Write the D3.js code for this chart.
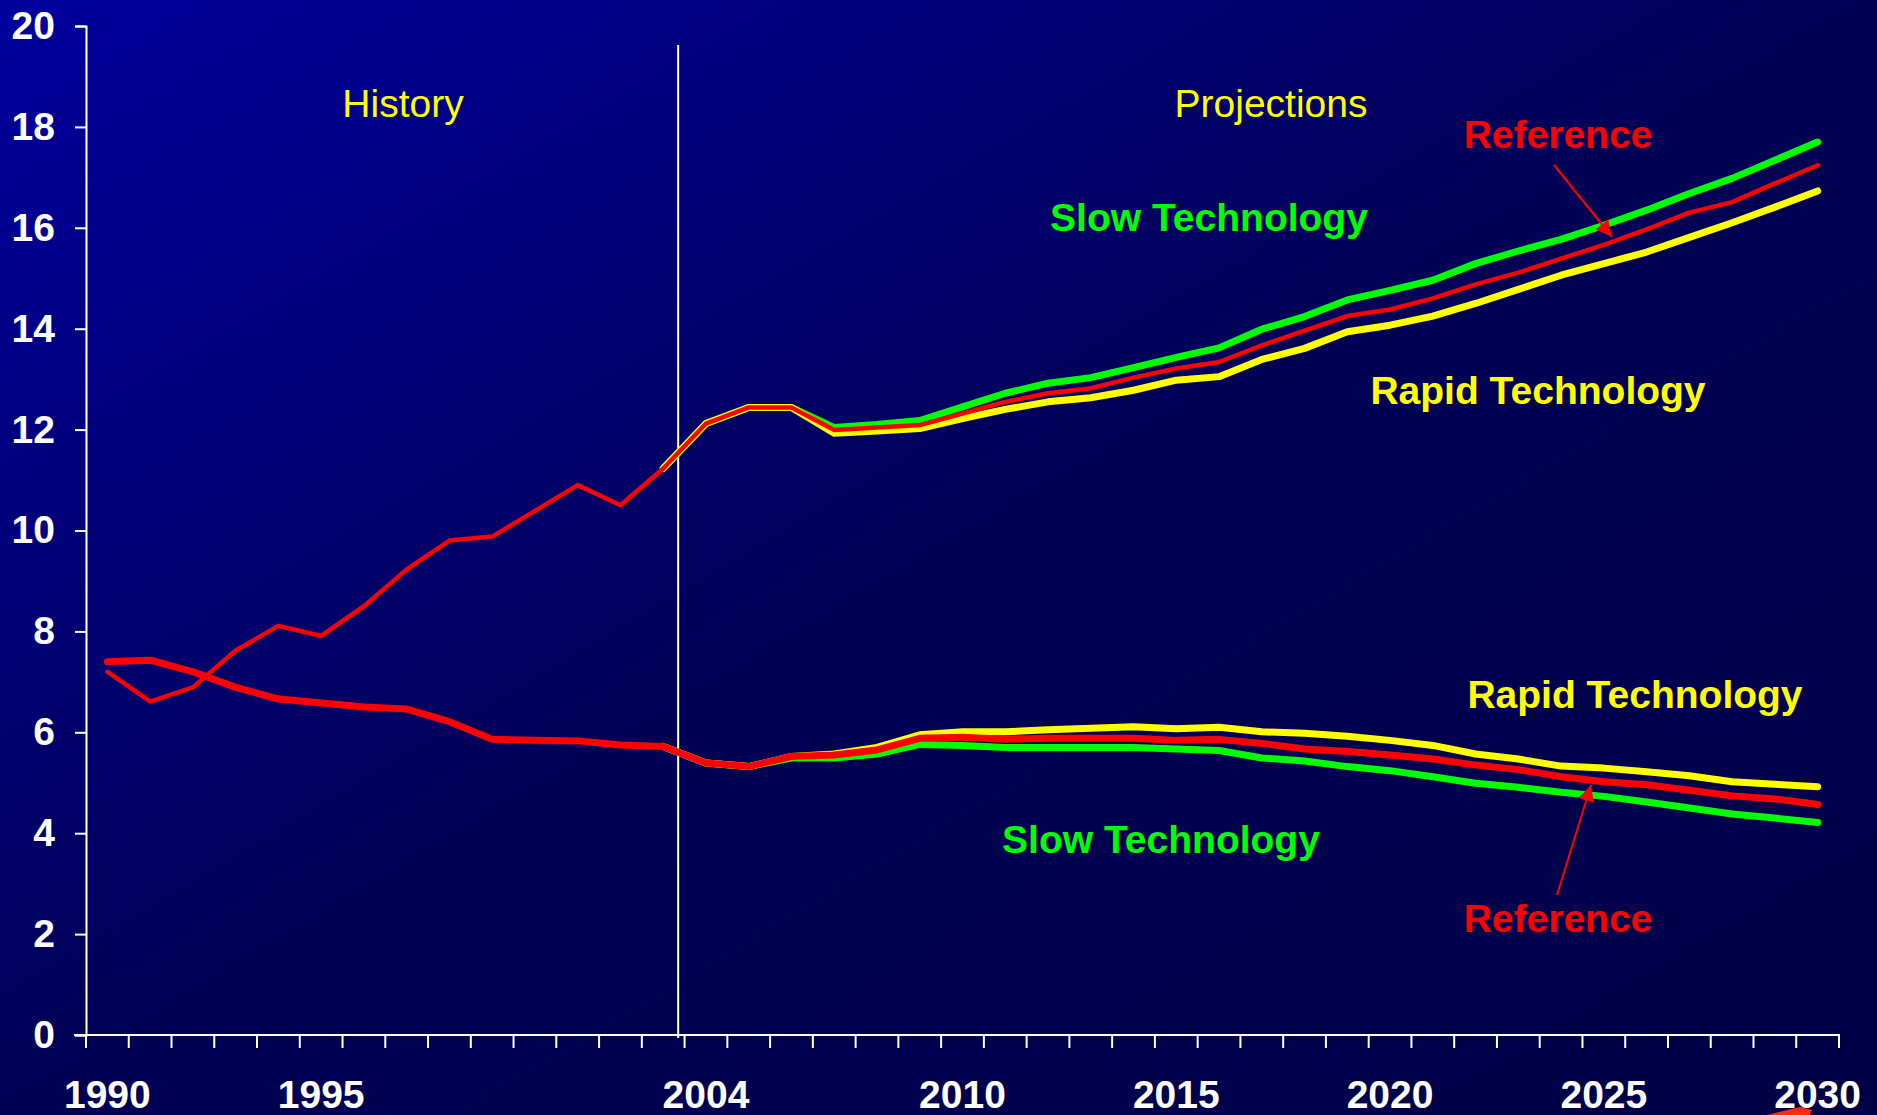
<!DOCTYPE html>
<html>
<head>
<meta charset="utf-8">
<script src="https://cdn.jsdelivr.net/npm/d3@7"></script>
<style>
  html, body { margin: 0; padding: 0; background: #000050; }
  svg { display: block; }
  text { font-family: "Liberation Sans", Arial, Helvetica, sans-serif; }
</style>
</head>
<body>
<div id="chart"></div>
<script>
var width = 1877;
var height = 1115;

// categories
var years = d3.range(1990, 2031);
var histYears = d3.range(1990, 2004);
var projYears = d3.range(2003, 2031);
var labelYears = [1990, 1995, 2004, 2010, 2015, 2020, 2025, 2030];
var yTicks = [0, 2, 4, 6, 8, 10, 12, 14, 16, 18, 20];

// history (1990-2003)
var histUpper = [7.2, 6.61, 6.89, 7.62, 8.11, 7.91, 8.5, 9.23, 9.8, 9.88, 10.39, 10.9, 10.5, 11.23];
var histLower = [7.4, 7.43, 7.2, 6.89, 6.66, 6.58, 6.5, 6.46, 6.21, 5.86, 5.84, 5.83, 5.75, 5.72];

// projections (2003-2030)
var slowUpper = [11.23, 12.12, 12.44, 12.44, 12.04, 12.1, 12.18, 12.45, 12.72, 12.92, 13.03, 13.23, 13.43, 13.62,
  13.99, 14.24, 14.57, 14.76, 14.96, 15.29, 15.54, 15.77, 16.05, 16.35, 16.68, 16.98, 17.34, 17.7];
var refUpper = [11.23, 12.12, 12.44, 12.44, 11.99, 12.04, 12.09, 12.32, 12.55, 12.72, 12.82, 13.03, 13.21, 13.34,
  13.67, 13.96, 14.25, 14.38, 14.6, 14.88, 15.11, 15.39, 15.66, 15.97, 16.3, 16.51, 16.88, 17.24];
var rapidUpper = [11.23, 12.12, 12.44, 12.44, 11.93, 11.97, 12.02, 12.22, 12.4, 12.55, 12.63, 12.78, 12.98, 13.05,
  13.39, 13.61, 13.94, 14.07, 14.25, 14.5, 14.78, 15.06, 15.29, 15.52, 15.81, 16.1, 16.41, 16.73];

var slowLower = [5.72, 5.39, 5.32, 5.49, 5.49, 5.57, 5.76, 5.74, 5.7, 5.7, 5.7, 5.7, 5.67, 5.64,
  5.49, 5.43, 5.32, 5.24, 5.12, 4.99, 4.91, 4.81, 4.73, 4.62, 4.5, 4.38, 4.3, 4.21];
var refLower = [5.72, 5.39, 5.32, 5.52, 5.55, 5.65, 5.88, 5.9, 5.86, 5.88, 5.88, 5.88, 5.84, 5.86,
  5.78, 5.67, 5.62, 5.55, 5.47, 5.35, 5.26, 5.12, 5.02, 4.96, 4.85, 4.74, 4.68, 4.57];
var rapidLower = [5.72, 5.39, 5.32, 5.52, 5.57, 5.7, 5.95, 6.01, 6.01, 6.05, 6.08, 6.11, 6.07, 6.1,
  6.01, 5.98, 5.92, 5.84, 5.74, 5.57, 5.47, 5.33, 5.29, 5.22, 5.14, 5.02, 4.97, 4.92];

var svg = d3.select("#chart").append("svg").attr("width", width).attr("height", height);

// background gradient, bright blue in the top left corner
var defs = svg.append("defs");
var grad = defs.append("linearGradient").attr("id", "bg")
  .attr("x1", 0).attr("y1", 0).attr("x2", 1).attr("y2", 1);
grad.append("stop").attr("offset", 0).attr("stop-color", "#00009e");
grad.append("stop").attr("offset", 0.5).attr("stop-color", "#000055");
grad.append("stop").attr("offset", 1).attr("stop-color", "#000046");
svg.append("rect").attr("width", width).attr("height", height).attr("fill", "url(#bg)");

defs.append("marker").attr("id", "head").attr("viewBox", "0 0 10 10")
  .attr("refX", 10).attr("refY", 5).attr("markerWidth", 11).attr("markerHeight", 8)
  .attr("markerUnits", "strokeWidth").attr("orient", "auto")
  .append("path").attr("d", "M0,0L10,5L0,10Z").attr("fill", "#ff0000");

var x = d3.scaleBand().domain(years).range([86, 1839]).paddingInner(0).paddingOuter(0);
var bw = x.bandwidth();
function xc(yr) { return x(yr) + bw / 2; }
var y = d3.scaleLinear().domain([0, 20]).range([1035, 26]);

// y axis
var yAxis = svg.append("g").attr("transform", "translate(86,0)")
  .call(d3.axisLeft(y).tickValues(yTicks).tickSize(11).tickPadding(20).tickFormat(d3.format("d")));
yAxis.select(".domain").attr("stroke", "#fff").attr("stroke-width", 2);
yAxis.selectAll(".tick line").attr("stroke", "#fff").attr("stroke-width", 2);
yAxis.selectAll(".tick text").attr("fill", "#fff").attr("font-size", 39).attr("font-weight", "bold")
  .attr("font-family", "'Liberation Sans', Arial, sans-serif");

// x axis: ticks between categories
var xAxis = svg.append("g");
xAxis.append("line").attr("x1", 74).attr("x2", 1840).attr("y1", y(0)).attr("y2", y(0))
  .attr("stroke", "#fff").attr("stroke-width", 2);
xAxis.selectAll("line.tk").data(years.concat([2031])).enter().append("line").attr("class", "tk")
  .attr("x1", function(d) { return d === 2031 ? x(2030) + bw : x(d); })
  .attr("x2", function(d) { return d === 2031 ? x(2030) + bw : x(d); })
  .attr("y1", y(0)).attr("y2", y(0) + 13)
  .attr("stroke", "#fff").attr("stroke-width", 2);
xAxis.selectAll("text").data(labelYears).enter().append("text")
  .attr("x", function(d) { return xc(d); }).attr("y", 1108)
  .attr("text-anchor", "middle").attr("fill", "#fff")
  .attr("font-size", 39).attr("font-weight", "bold")
  .text(function(d) { return d; });

// history / projections divider
svg.append("line").attr("x1", xc(2003) + bw * 0.35).attr("x2", xc(2003) + bw * 0.35)
  .attr("y1", 45).attr("y2", y(0) + 3).attr("stroke", "#fff").attr("stroke-width", 2);

var line = d3.line().x(function(d) { return xc(d[0]); }).y(function(d) { return y(d[1]); });
function pairs(yrs, vals) { return yrs.map(function(yr, i) { return [yr, vals[i]]; }); }

var series = [
  { yrs: projYears, vals: slowUpper, color: "#00ff00", w: 7 },
  { yrs: projYears, vals: rapidUpper, color: "#ffff00", w: 7 },
  { yrs: projYears, vals: refUpper, color: "#ff0000", w: 4.5 },
  { yrs: histYears, vals: histUpper, color: "#ff0000", w: 4.5 },
  { yrs: projYears, vals: slowLower, color: "#00ff00", w: 7 },
  { yrs: projYears, vals: rapidLower, color: "#ffff00", w: 7 },
  { yrs: projYears, vals: refLower, color: "#ff0000", w: 7 },
  { yrs: histYears, vals: histLower, color: "#ff0000", w: 7 }
];

svg.append("g").selectAll("path").data(series).enter().append("path")
  .attr("d", function(d) { return line(pairs(d.yrs, d.vals)); })
  .attr("fill", "none")
  .attr("stroke", function(d) { return d.color; })
  .attr("stroke-width", function(d) { return d.w; })
  .attr("stroke-linecap", "round").attr("stroke-linejoin", "round");

// annotations
var notes = [
  { t: "History", x: 403, y: 117, c: "#ffff00", b: false },
  { t: "Projections", x: 1271, y: 117, c: "#ffff00", b: false },
  { t: "Reference", x: 1558, y: 148, c: "#ff0000", b: true },
  { t: "Slow Technology", x: 1209, y: 231, c: "#00ff00", b: true },
  { t: "Rapid Technology", x: 1538, y: 404, c: "#ffff00", b: true },
  { t: "Rapid Technology", x: 1635, y: 708, c: "#ffff00", b: true },
  { t: "Slow Technology", x: 1161, y: 853, c: "#00ff00", b: true },
  { t: "Reference", x: 1558, y: 932, c: "#ff0000", b: true }
];
svg.append("g").selectAll("text").data(notes).enter().append("text")
  .attr("x", function(d) { return d.x; }).attr("y", function(d) { return d.y; })
  .attr("text-anchor", "middle").attr("font-size", 39)
  .attr("font-weight", function(d) { return d.b ? "bold" : "normal"; })
  .attr("fill", function(d) { return d.c; })
  .text(function(d) { return d.t; });

var arrows = [[1554, 165, 1612, 237], [1557, 895, 1591, 785]];
svg.append("g").selectAll("line").data(arrows).enter().append("line")
  .attr("x1", function(d) { return d[0]; }).attr("y1", function(d) { return d[1]; })
  .attr("x2", function(d) { return d[2]; }).attr("y2", function(d) { return d[3]; })
  .attr("stroke", "#ff0000").attr("stroke-width", 2).attr("marker-end", "url(#head)");

// stray arrowhead cut off at the bottom edge
svg.append("path").attr("d", "M1767,1115L1800,1107L1812,1110L1810,1115Z").attr("fill", "#ff2a10");
</script>
</body>
</html>
